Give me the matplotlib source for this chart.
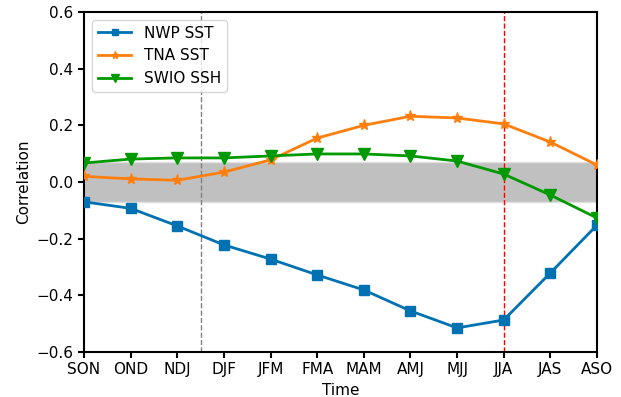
import matplotlib.pyplot as plt
import numpy as np

# Сезоны (скользящие трёхмесячные окна)
seasons = ["SON", "OND", "NDJ", "DJF", "JFM", "FMA", "MAM", "AMJ", "MJJ", "JJA", "JAS", "ASO"]

nwp_sst = [-0.07, -0.093, -0.155, -0.222, -0.272, -0.328, -0.381, -0.455, -0.515, -0.487, -0.321, -0.152]
tna_sst = [0.02, 0.011, 0.006, 0.035, 0.078, 0.155, 0.200, 0.232, 0.226, 0.205, 0.141, 0.060]
swio_ssh = [0.067, 0.081, 0.085, 0.085, 0.092, 0.099, 0.099, 0.092, 0.074, 0.028, -0.046, -0.127]

# Порог значимости
sig = 0.07

x = np.arange(len(seasons))

fig = plt.figure(figsize=(6.21, 3.97), dpi=100)
ax = fig.add_axes([84 / 621, 45 / 397, 513 / 621, 340 / 397])

ax.fill_between(x, -sig, sig, color="#c0c0c0", edgecolor="#e0e0e0", lw=1, zorder=1)
ax.axvline(2.5, color="grey", ls="--", lw=1, zorder=2)
ax.axvline(9, color="red", ls="--", lw=1, zorder=2)

ax.plot(x, nwp_sst, c="#0072b2", marker="s", ms=7, lw=2, label="NWP SST", zorder=3)
ax.plot(x, tna_sst, c="#ff7f0e", marker="*", ms=8, lw=2, label="TNA SST", zorder=3)
ax.plot(x, swio_ssh, c="#009a00", marker="v", ms=8, lw=2, label="SWIO SSH", zorder=3)

ax.set_xlim(0, len(seasons) - 1)
ax.set_ylim(-0.6, 0.6)
ax.set_xticks(x)
ax.set_xticklabels(seasons)
ax.set_yticks(np.arange(-0.6, 0.61, 0.2))
ax.set_xlabel("Time")
ax.set_ylabel("Correlation")
for s in ax.spines.values():
    s.set_linewidth(1.5)
ax.tick_params(width=1.5, length=4, labelsize=11)
ax.xaxis.label.set_size(11)
ax.yaxis.label.set_size(11)
ax.legend(loc="upper left", fontsize=11, handlelength=2.2, markerscale=0.65)

fig.savefig("out.png", dpi=100)
